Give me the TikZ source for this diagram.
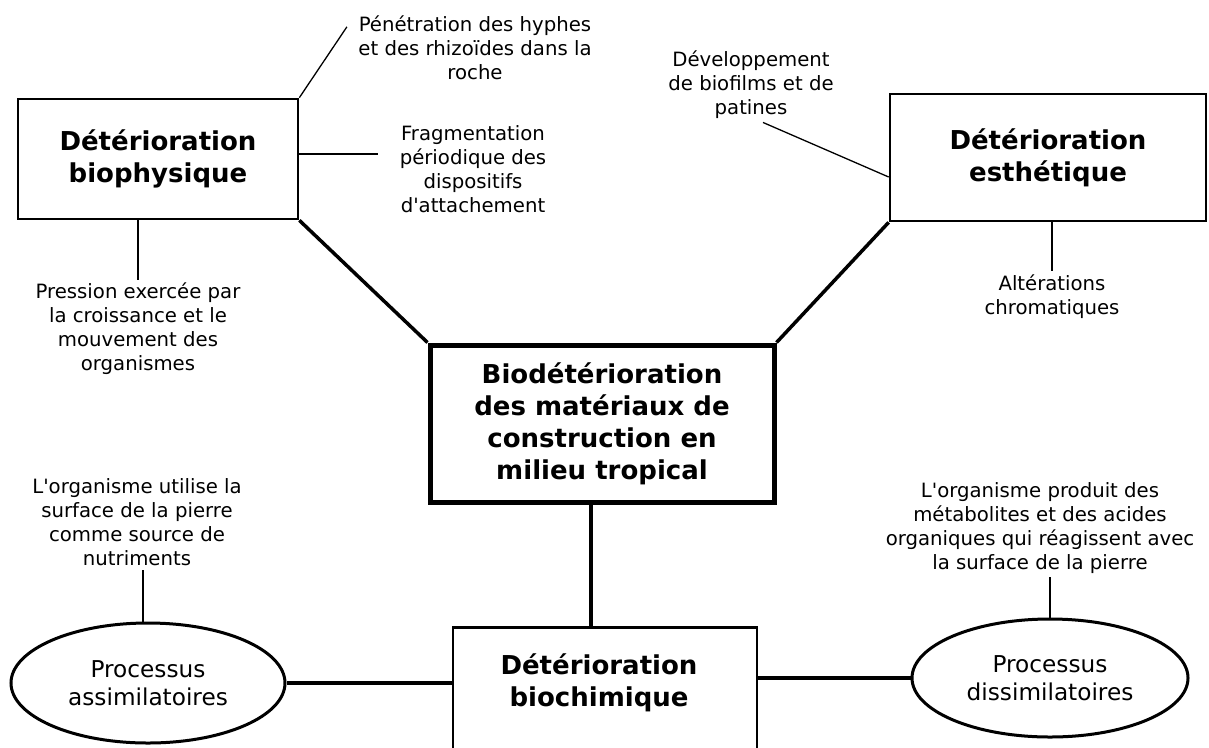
\documentclass[tikz,border=0pt]{standalone}
\usepackage{fontspec}
\setmainfont{DejaVu Sans}
\usetikzlibrary{shapes.geometric}
\tikzset{
  box/.style={draw,line width=2.7pt,align=center,font=\fontsize{26}{32}\selectfont\bfseries},
  note/.style={align=center,font=\fontsize{19.7}{24}\selectfont},
  proc/.style={draw,ellipse,line width=3pt,align=center,font=\fontsize{23.2}{28}\selectfont},
  link/.style={line width=1.3pt},
  bond/.style={line width=3.5pt}
}

\begin{document}
\begin{tikzpicture}[x=1pt,y=-1pt]
\useasboundingbox (0,0) rectangle (1209,747);
\node (physique) [box,minimum width=280pt,minimum height=120pt] at (158,159) {Détérioration\\biophysique};
\node (esthetique) [box,minimum width=316pt,minimum height=127pt] at (1048,157.5) {Détérioration\\esthétique};
\node (centre) [box,line width=5pt,minimum width=344pt,minimum height=157pt] at (602,423.5) {Biodétérioration\\des matériaux de\\construction en\\milieu tropical};
\node (chimiebox) [draw,line width=2.7pt,minimum width=304pt,minimum height=200pt,anchor=north] at (605,626) {};
\node (chimie) [box,draw=none] at (599,683) {Détérioration\\biochimique};
\node (assim) [proc,minimum width=274pt,minimum height=120pt] at (148,683) {Processus\\assimilatoires};
\node (dissim) [proc,minimum width=276pt,minimum height=118pt] at (1050,678) {Processus\\dissimilatoires};

\node (penetration) [note] at (475,48) {Pénétration des hyphes\\et des rhizoïdes dans la\\roche};
\node (fragment) [note] at (473,169) {Fragmentation\\périodique des\\dispositifs\\d\textquotesingle attachement};
\node (pression) [note] at (138,329) {Pression exercée par\\la croissance et le\\mouvement des\\organismes};
\node (biofilm) [note] at (751,85) {Développement\\de biofilms et de\\patines};
\node (alteration) [note] at (1052,296.5) {Altérations\\chromatiques};
\node (nutriment) [note] at (137,522.5) {L\textquotesingle organisme utilise la\\surface de la pierre\\comme source de\\nutriments};
\node (metabolite) [note] at (1040,528) {L\textquotesingle organisme produit des\\métabolites et des acides\\organiques qui réagissent avec\\la surface de la pierre};

\draw[link] (physique.north east) -- ([xshift=-8pt]penetration.170);
\draw[link] ([yshift=5pt]physique.east) coordinate (p1) -- ([xshift=-18pt]fragment.west |- p1);
\draw[link] ([xshift=-20pt]physique.south) -- (pression.north);
\draw[link] ([yshift=-19.5pt]esthetique.west) -- ([xshift=12pt]biofilm.south);
\draw[link] (esthetique.south -| alteration.north) -- (alteration.north);
\draw[link] ([xshift=-5pt]assim.north) -- ([xshift=-5pt]assim.north |- nutriment.south);
\draw[link] (dissim.north) -- (dissim.north |- metabolite.south);

\draw[bond] (physique.south east) -- (centre.north west);
\draw[bond] (esthetique.south west) -- (centre.north east);
\draw[bond] ([xshift=-11pt]centre.south) -- ([xshift=-11pt]centre.south |- chimiebox.north);
\draw[bond] (assim.east) -- (assim.east -| chimiebox.west);
\draw[bond] (dissim.west) -- (dissim.west -| chimiebox.east);
\end{tikzpicture}
\end{document}
